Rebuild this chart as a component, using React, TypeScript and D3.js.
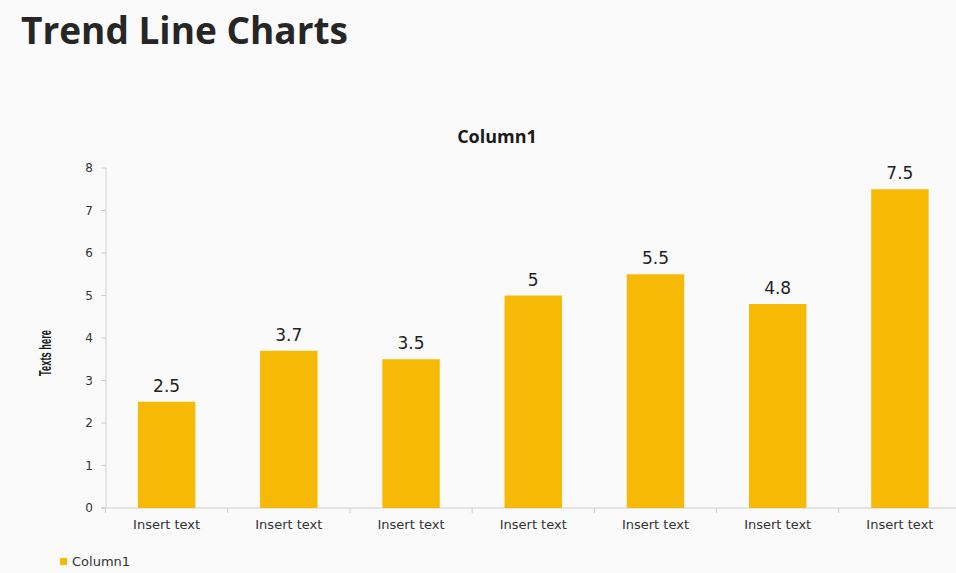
import React from "react";
import * as d3 from "d3";

const categories = ["c1", "c2", "c3", "c4", "c5", "c6", "c7"];
const categoryLabels = ["Insert text", "Insert text", "Insert text", "Insert text", "Insert text", "Insert text", "Insert text"];
const values = [2.5, 3.7, 3.5, 5, 5.5, 4.8, 7.5];
const yTicks = [0, 1, 2, 3, 4, 5, 6, 7, 8];
const seriesName = "Column1";
const pageTitle = "Trend Line Charts";
const yAxisTitle = "Texts here";

const W = 956;
const H = 573;
const BAR = "#F6BA06";
const FONT = "'Open Sans', 'DejaVu Sans', sans-serif";
const WIDE = "'DejaVu Sans', Verdana, sans-serif";

export default function App() {
  const x = d3.scaleBand<string>().domain(categories).range([105.5, 961]).paddingInner(0.53).paddingOuter(0.265);
  const y = d3.scaleLinear().domain([0, 8]).range([508, 168]);

  return (
    <div style={{ position: "absolute", left: 0, top: 0 }}>
      <svg width={W} height={H} style={{ display: "block", background: "#fafafa" }}>
        <text x={21} y={44} fontFamily={FONT} fontWeight={700} fontSize={37} fill="#262626">
          {pageTitle}
        </text>
        <text x={497} y={143} textAnchor="middle" fontFamily={FONT} fontWeight={700} fontSize={18} fill="#1a1a1a">
          {seriesName}
        </text>
        <text
          transform={`translate(51, 353) rotate(-90)`}
          textAnchor="middle"
          fontFamily="'Liberation Sans Narrow', 'Arial Narrow', 'Liberation Sans', sans-serif"
          fontWeight={700}
          fontSize={16}
          textLength={46}
          lengthAdjust="spacingAndGlyphs"
          fill="#1a1a1a"
        >
          {yAxisTitle}
        </text>
        {/* y axis */}
        <line x1={106} x2={106} y1={y(8)} y2={y(0)} stroke="#d0d0d0" strokeWidth={1} />
        {yTicks.map((t) => (
          <g key={t}>
            <line x1={101} x2={106} y1={y(t)} y2={y(t)} stroke="#d0d0d0" />
            <text x={93} y={y(t)} dy="0.35em" textAnchor="end" fontFamily={WIDE} fontSize={12} fill="#333">
              {t}
            </text>
          </g>
        ))}
        {/* x axis */}
        <line x1={101} x2={956} y1={y(0)} y2={y(0)} stroke="#d0d0d0" strokeWidth={1} />
        {categories.map((c) => {
          const step = x.step();
          const left = (x(c) as number) - (step - x.bandwidth()) / 2;
          return <line key={"t" + c} x1={left} x2={left} y1={y(0)} y2={y(0) + 5} stroke="#d0d0d0" />;
        })}
        {categories.map((c, i) => (
          <g key={c}>
            <rect x={x(c)} y={y(values[i])} width={x.bandwidth()} height={y(0) - y(values[i])} fill={BAR} />
            <text
              x={(x(c) as number) + x.bandwidth() / 2}
              y={y(values[i]) - 10}
              textAnchor="middle"
              fontFamily={WIDE}
              fontSize={17}
              fill="#222"
            >
              {values[i]}
            </text>
            <text
              x={(x(c) as number) + x.bandwidth() / 2}
              y={529}
              textAnchor="middle"
              fontFamily={WIDE}
              fontSize={13}
              fill="#333"
            >
              {categoryLabels[i]}
            </text>
          </g>
        ))}
        {/* legend */}
        <rect x={60} y={558} width={7} height={7} fill={BAR} />
        <text x={72} y={566} fontFamily={WIDE} fontSize={13} fill="#333">
          {seriesName}
        </text>
      </svg>
    </div>
  );
}
